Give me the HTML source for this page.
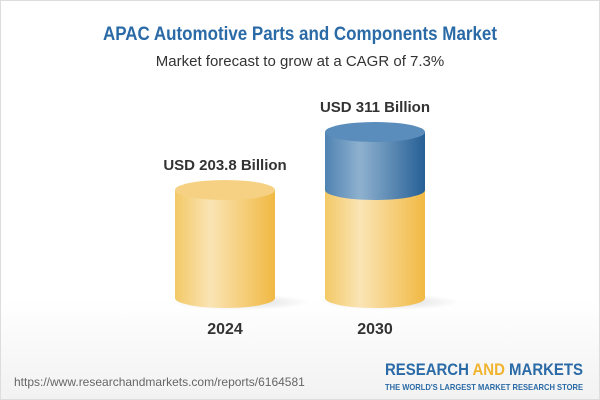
<!DOCTYPE html>
<html><head><style>
body{margin:0}
#c{position:relative;width:598px;height:398px;border:1px solid #ddd;background:linear-gradient(#fff 0%,#fff 75%,#f2f2f2 100%);font-family:"Liberation Sans",sans-serif;overflow:hidden}
.t{position:absolute;width:100%;text-align:center}
</style></head><body><div id="c">
<div class="t" style="top:52px;font-size:15px;color:#333">Market forecast to grow at a CAGR of 7.3%</div>
<svg width="600" height="400" style="position:absolute;left:-1px;top:-1px">
<defs>
<linearGradient id="y" x1="0" x2="1"><stop offset="0" stop-color="#f3c966"/><stop offset=".35" stop-color="#fae4b5"/><stop offset="1" stop-color="#f1b943"/></linearGradient>
<linearGradient id="b" x1="0" x2="1"><stop offset="0" stop-color="#4f83b2"/><stop offset=".35" stop-color="#8fb1cf"/><stop offset="1" stop-color="#266096"/></linearGradient>
<radialGradient id="s"><stop offset="0" stop-color="#000" stop-opacity=".15"/><stop offset="1" stop-color="#000" stop-opacity="0"/></radialGradient>
</defs>
<text x="103" y="40" textLength="394" lengthAdjust="spacingAndGlyphs" font-family="Liberation Sans,sans-serif" font-weight="bold" font-size="19" fill="#2a6aa6">APAC Automotive Parts and Components Market</text>
<ellipse cx="240" cy="302" rx="70" ry="8" fill="url(#s)"/>
<ellipse cx="390" cy="302" rx="70" ry="8" fill="url(#s)"/>
<path d="M175 190 V298 A50 10 0 0 0 275 298 V190 Z" fill="url(#y)"/>
<ellipse cx="225" cy="190" rx="50" ry="10" fill="#f6d183"/>
<path d="M325 190 V298 A50 10 0 0 0 425 298 V190 Z" fill="url(#y)"/>
<path d="M325 132 V190 A50 10 0 0 0 425 190 V132 Z" fill="url(#b)"/>
<ellipse cx="375" cy="132" rx="50" ry="10" fill="#5a8dbb"/>
<g font-family="Liberation Sans,sans-serif" font-weight="bold" fill="#333" text-anchor="middle" font-size="15">
<text x="225" y="170">USD 203.8 Billion</text>
<text x="375" y="112">USD 311 Billion</text>
<text x="225" y="334" font-size="16">2024</text>
<text x="375" y="334" font-size="16">2030</text>
</g>
<text x="14" y="386" font-family="Liberation Sans,sans-serif" font-size="12" fill="#666">https://www.researchandmarkets.com/reports/6164581</text>
<text x="385" y="375" textLength="198" lengthAdjust="spacingAndGlyphs" font-family="Liberation Sans,sans-serif" font-weight="bold" font-size="17" fill="#2a6aa6">RESEARCH <tspan fill="#f1b42f">AND</tspan> MARKETS</text>
<text x="385" y="390" textLength="198" lengthAdjust="spacingAndGlyphs" font-family="Liberation Sans,sans-serif" font-weight="bold" font-size="8.4" fill="#2a6aa6">THE WORLD'S LARGEST MARKET RESEARCH STORE</text>
</svg>
</div></body></html>
